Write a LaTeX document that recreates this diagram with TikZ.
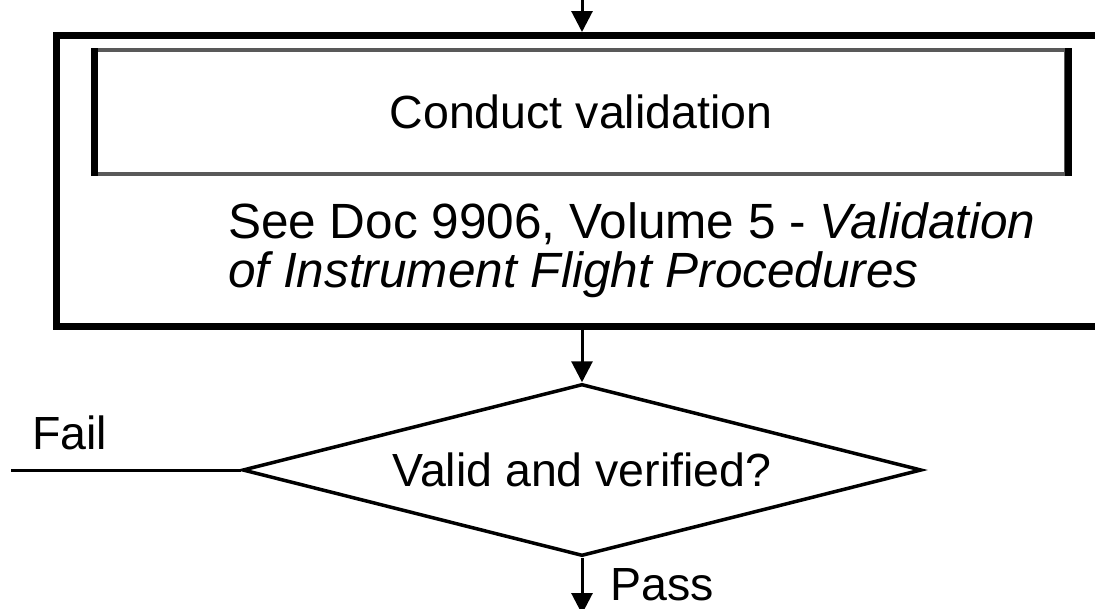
\documentclass[tikz,border=0pt]{standalone}
\usepackage{fontspec}
\setmainfont{Liberation Sans}
\usetikzlibrary{shapes.geometric,arrows.meta}

\tikzset{
	flow/.style={line width=3pt,-{Triangle[length=21pt,width=21pt]}},
	tag/.style={font=\fontsize{46.5}{56}\selectfont,inner sep=0pt},
	note/.style={font=\fontsize{49.5}{49}\selectfont,inner sep=0pt,align=left}
}

\begin{document}
\begin{tikzpicture}[x=1pt,y=-1pt]
		\useasboundingbox (0,0) rectangle (1095,608);
		\clip (0,0) rectangle (1095,608);

		\node[draw,line width=7pt,minimum width=1056pt,minimum height=291pt,inner sep=0pt] (stage) at (584.5,181) {};
		\node[tag,draw=black!65,line width=4pt,minimum width=970pt,minimum height=124pt] (task) at (581,112) {Conduct validation};
		\draw[line width=7pt] (task.north west) -- (task.south west);
		\draw[line width=7pt] (task.north east) -- (task.south east);
		\node[note,anchor=base west] (ref) at (228,287) {See Doc 9906, Volume 5 - \textit{Validation}\\\textit{of Instrument Flight Procedures}};

		\node[tag,draw,shape=diamond,line width=3.5pt,minimum width=679pt,minimum height=172pt,aspect=3.95] (check) at (582,470) {Valid and verified?};
		\node[tag,anchor=base west] (fail) at (32,449) {Fail};
		\node[tag,anchor=base west] (pass) at (610,600) {Pass};

		\coordinate (entry) at (582,0);
		\coordinate (reject) at (11,470);
		\coordinate (accept) at (582,614);

		\draw[flow] (entry) -- (entry |- stage.north);
		\draw[flow] (check.north |- stage.south) -- (check.north);
		\draw[line width=3pt] (reject) -- (check.west);
		\draw[flow] (check.south) -- (accept);
	\end{tikzpicture}
\end{document}
